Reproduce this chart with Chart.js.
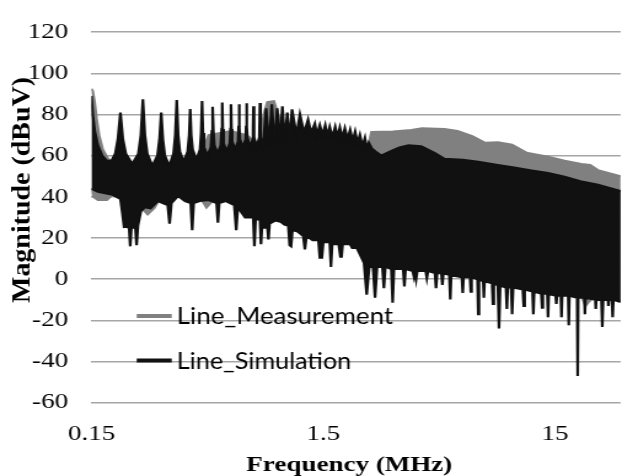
<!DOCTYPE html>
<html>
<head>
<meta charset="utf-8">
<script src="https://cdn.jsdelivr.net/npm/chart.js@4.4.1/dist/chart.umd.min.js"></script>
<style>
html, body { margin: 0; padding: 0; background: #fff; overflow: hidden; }
/* the reference picture is stretched sideways, so the chart is drawn narrow and scaled */
#wrap { width: 506px; height: 476px; transform: scaleX(1.2292); transform-origin: 0 0; }
</style>
</head>
<body>
<div id="wrap"><canvas id="c"></canvas></div>
<script>
// [MHz, dBuV]
let simUpper = [
  [0.150, 89], [0.152, 80], [0.155, 72], [0.160, 65], [0.167, 60], [0.175, 57.5], [0.183, 57.5],
  [0.190, 61], [0.195, 68], [0.200, 81], [0.205, 68], [0.211, 61], [0.225, 56],
  [0.239, 61], [0.245, 70], [0.250, 87.4], [0.255, 70], [0.261, 61], [0.275, 55],
  [0.289, 60], [0.295, 68], [0.300, 81], [0.305, 68], [0.311, 60], [0.325, 55],
  [0.339, 61], [0.345, 70], [0.350, 87], [0.355, 70], [0.361, 62], [0.375, 57],
  [0.390, 62], [0.396, 70], [0.400, 82.7], [0.404, 70], [0.410, 63], [0.425, 58],
  [0.441, 63], [0.446, 71], [0.450, 86.6], [0.454, 71], [0.459, 64], [0.475, 60],
  [0.491, 64], [0.496, 72], [0.500, 83.8], [0.504, 72], [0.509, 65], [0.525, 61],
  [0.542, 65], [0.547, 73], [0.550, 85.8], [0.553, 73], [0.558, 66], [0.575, 62],
  [0.593, 66], [0.597, 73], [0.600, 85], [0.603, 73], [0.607, 67], [0.625, 63],
  [0.644, 67], [0.647, 74], [0.650, 85], [0.653, 74], [0.656, 68], [0.675, 64],
  [0.694, 68], [0.697, 74], [0.700, 85.5], [0.703, 74], [0.706, 69], [0.725, 64],
  [0.744, 68], [0.747, 74], [0.750, 84], [0.753, 74], [0.756, 69], [0.775, 64],
  [0.795, 69], [0.800, 85.6], [0.805, 69], [0.825, 64], [0.850, 83], [0.875, 65],
  [0.900, 85], [0.925, 65], [0.950, 83], [0.975, 66], [1.000, 84], [1.025, 67],
  [1.050, 81], [1.075, 67], [1.100, 82.5], [1.150, 70], [1.190, 80], [1.240, 71],
  [1.290, 77.5], [1.330, 71], [1.380, 75.5], [1.410, 70], [1.450, 74.8], [1.490, 70],
  [1.530, 74.8], [1.565, 69.5], [1.600, 74], [1.645, 69], [1.690, 74], [1.730, 69],
  [1.770, 73.7], [1.815, 68.5], [1.860, 73.3], [1.910, 68], [1.960, 72.5], [2.010, 67],
  [2.060, 71.7], [2.110, 66], [2.160, 70.1], [2.215, 64.5], [2.270, 68.6], [2.315, 63],
  [2.360, 66.2], [2.430, 63.5], [2.520, 62], [2.670, 60], [2.950, 62.3], [3.200, 64],
  [3.500, 65], [3.970, 64.6], [4.550, 61.2], [5.000, 58.5], [6.000, 58], [7.000, 57],
  [8.500, 55.5], [10.00, 54.2], [11.90, 52.8], [14.00, 51.5], [16.50, 49.8],
  [19.30, 47.6], [23.00, 45.8], [28.80, 42.8]
]

let simLower = [
  [0.150, 44], [0.160, 42.5], [0.185, 41], [0.200, 39], [0.204, 32], [0.2074, 25.4],
  [0.211, 25.5], [0.218, 25], [0.2204, 16], [0.223, 25], [0.232, 25], [0.2348, 16.5],
  [0.238, 26], [0.245, 33], [0.255, 35], [0.270, 34.5], [0.290, 38], [0.320, 36],
  [0.326, 27], [0.332, 37], [0.355, 40.5], [0.380, 38], [0.402, 37], [0.408, 23.8],
  [0.414, 37], [0.440, 38], [0.480, 38.5], [0.520, 37], [0.527, 27.5], [0.534, 37],
  [0.570, 38], [0.620, 36], [0.632, 23.8], [0.642, 35], [0.690, 30], [0.748, 30],
  [0.757, 16], [0.766, 29], [0.800, 29], [0.808, 17], [0.816, 25], [0.862, 25],
  [0.870, 19.3], [0.880, 27], [0.930, 28.5], [0.980, 28], [1.020, 26.5], [1.060, 26],
  [1.075, 16.5], [1.090, 16], [1.105, 24], [1.170, 23], [1.230, 21], [1.250, 14.5],
  [1.270, 21], [1.350, 19], [1.430, 19], [1.450, 10.5], [1.480, 10.5], [1.500, 18],
  [1.600, 18], [1.620, 6], [1.640, 17], [1.750, 17], [1.780, 11], [1.800, 11],
  [1.820, 17], [1.960, 17], [2.000, 15.2], [2.080, 15.2], [2.100, 15], [2.250, 8],
  [2.310, -7.5], [2.370, 6], [2.460, 6], [2.510, -9], [2.560, 6], [2.700, 6],
  [2.740, -4.4], [2.780, 6], [2.950, 5], [2.990, -11.4], [3.030, 5], [3.320, 5],
  [3.360, -3.5], [3.400, 5], [3.650, 4], [3.700, 1], [3.750, 4], [3.780, 0.5],
  [3.820, 4], [4.150, 4], [4.200, 0.5], [4.250, 4], [4.550, 3], [4.600, -4.4],
  [4.650, 3], [4.850, 3], [4.900, -2.8], [4.950, 3], [5.250, 2], [5.300, -9.9],
  [5.350, 2], [5.950, 1], [6.000, -6.7], [6.050, 1], [6.450, 1], [6.500, -6],
  [6.550, 1], [6.950, 0], [7.000, -17], [7.050, 0], [7.350, -1], [7.400, -9],
  [7.450, -1], [8.030, -2], [8.100, -12], [8.170, -2], [8.500, -3], [8.600, -24],
  [8.700, -3], [9.220, -4], [9.300, -14.5], [9.380, -4], [9.700, -4], [9.800, -17],
  [9.900, -4], [10.90, -5], [11.00, -13], [11.10, -5], [12.00, -6], [12.10, -17],
  [12.20, -6], [13.10, -7], [13.20, -13.8], [13.30, -7], [13.90, -7], [14.00, -18.5],
  [14.10, -7], [15.10, -8], [15.20, -12], [15.30, -8], [15.90, -8], [16.00, -18.5],
  [16.10, -8], [17.10, -8], [17.20, -22.4], [17.30, -8], [18.70, -9], [18.80, -47],
  [18.90, -9], [20.10, -9], [20.20, -17], [20.30, -9], [22.40, -10], [22.50, -14.5],
  [22.60, -10], [23.80, -10], [24.00, -23.2], [24.20, -10], [25.40, -10], [25.50, -13],
  [25.60, -10], [26.40, -10], [26.60, -18.5], [26.80, -10], [28.80, -11]
]

let measUpper = [
  [0.150, 92.5], [0.152, 91.5], [0.155, 86], [0.158, 78], [0.162, 70], [0.168, 63],
  [0.176, 59], [0.190, 55], [0.400, 54], [0.450, 62], [0.480, 70], [0.600, 72],
  [0.700, 70], [0.780, 66], [0.800, 68], [0.830, 80], [0.860, 86], [0.920, 86.5],
  [0.960, 80], [1.000, 74], [1.100, 70], [1.200, 68.5], [1.500, 68], [2.000, 66],
  [2.300, 64], [2.360, 66], [2.420, 71.5], [3.000, 71.7], [3.600, 72.5],
  [4.000, 73.3], [5.000, 73], [5.700, 72], [6.600, 69.5], [7.500, 66.3], [8.500, 66.5],
  [9.800, 65.4], [11.30, 61.5], [14.00, 59.5], [16.50, 57.6], [19.50, 56], [21.30, 55.5],
  [23.00, 53], [28.80, 50]
]

let measLower = [
  [0.150, 44], [0.153, 40], [0.160, 38.5], [0.175, 38.5], [0.185, 41], [0.200, 40],
  [0.240, 36], [0.262, 31.5], [0.280, 34.5], [0.300, 40], [0.440, 40], [0.470, 34.8],
  [0.500, 38], [0.520, 40], [0.600, 39], [0.700, 33], [0.900, 30], [1.100, 27],
  [1.500, 21], [2.000, 19], [2.300, 8], [3.000, 7], [5.000, 5], [8.000, 2],
  [12.00, -3], [16.00, -7], [19.50, -8], [20.30, -13], [21.00, -11], [22.00, -9],
  [28.80, -10]
]

let xTicks = [0.15, 1.5, 15]
let yMin = -60
let yMax = 120
let yStep = 20

let names = ['Line_Measurement', 'Line_Simulation']
let black = '#111111'
let grey = '#808080'
let serif = "'Liberation Serif', 'Times New Roman', serif"

Chart.defaults.font.family = serif
Chart.defaults.color = '#000'

let pts = function(list){
    return list.map(p => ({x: p[0], y: p[1]}))
}

// legend and y title drawn by hand, the legend sits inside the plot
let extras = {
    id: 'extras',
    afterDraw: function(chart){
        let ctx = chart.ctx
        ctx.save()
        ctx.fillStyle = '#000'
        ctx.font = 'bold 21px ' + serif
        ctx.textAlign = 'center'
        ctx.textBaseline = 'alphabetic'
        let t = 'Magnitude (dBuV)'
        let w = ctx.measureText(t).width
        ctx.translate(23.8, 190)
        ctx.rotate(-Math.PI / 2)
        ctx.scale(226 / w, 1)
        ctx.fillText(t, 0, 0)
        ctx.restore()

        let rows = [
            {text: names[0], color: grey, y: 316, max: 176},
            {text: names[1], color: black, y: 360.5, max: 142}
        ]
        ctx.save()
        ctx.font = '23px Lato'
        ctx.textAlign = 'left'
        ctx.textBaseline = 'alphabetic'
        rows.forEach(r => {
            ctx.strokeStyle = r.color
            ctx.lineWidth = 4
            ctx.beginPath()
            ctx.moveTo(111.2, r.y)
            ctx.lineTo(139.7, r.y)
            ctx.stroke()
            ctx.fillStyle = '#000'
            ctx.fillText(r.text, 143.8, r.y + 8.2, r.max)
        })
        ctx.restore()
    }
}

let chart = new Chart(document.getElementById('c'), {
    type: 'line',
    data: {
        datasets: [{
            label: names[1],
            data: pts(simUpper),
            borderColor: black,
            backgroundColor: black,
            borderWidth: 2.2,
            pointRadius: 0,
            fill: 1
        }, {
            label: names[1] + ' low',
            data: pts(simLower),
            borderColor: black,
            backgroundColor: black,
            borderWidth: 2.2,
            pointRadius: 0,
            fill: false
        }, {
            label: names[0],
            data: pts(measUpper),
            borderColor: grey,
            backgroundColor: grey,
            borderWidth: 2,
            pointRadius: 0,
            fill: 3
        }, {
            label: names[0] + ' low',
            data: pts(measLower),
            borderColor: grey,
            backgroundColor: grey,
            borderWidth: 2,
            pointRadius: 0,
            fill: false
        }]
    },
    options: {
        responsive: true,
        maintainAspectRatio: false,
        animation: false,
        events: [],
        layout: { padding: { top: 20, right: 0, bottom: 0, left: 0 } },
        plugins: {
            legend: { display: false },
            tooltip: { enabled: false }
        },
        scales: {
            x: {
                type: 'logarithmic',
                min: 0.15,
                max: 28.8,
                afterBuildTicks: function(axis){
                    axis.ticks = xTicks.map(v => ({value: v}))
                },
                afterFit: function(axis){
                    axis.height = 73.3
                },
                grid: { display: false, drawTicks: false },
                border: { display: false },
                ticks: {
                    autoSkip: false,
                    maxRotation: 0,
                    padding: 18,
                    color: '#000',
                    font: { family: serif, size: 22, weight: 'normal' },
                    callback: function(v){ return String(v) }
                },
                title: {
                    display: true,
                    text: 'Frequency (MHz)  ',
                    color: '#000',
                    font: { family: serif, size: 22, weight: 'bold' },
                    padding: { top: 0, bottom: -3 }
                }
            },
            y: {
                min: yMin,
                max: yMax,
                afterFit: function(axis){
                    axis.width = 74.4
                },
                grid: { color: '#a6a6a6', lineWidth: 1.5, drawTicks: false },
                border: { display: false },
                ticks: {
                    stepSize: yStep,
                    padding: 19,
                    color: '#000',
                    font: { family: serif, size: 22, weight: 'normal' }
                }
            }
        }
    },
    plugins: [extras]
})
</script>
</body>
</html>
